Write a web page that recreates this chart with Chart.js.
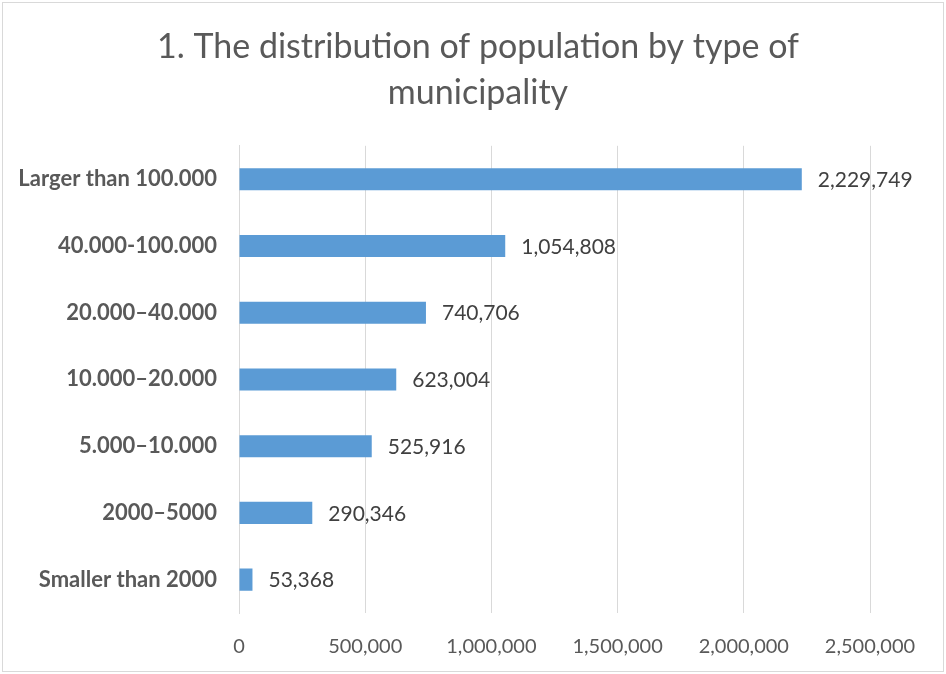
<!DOCTYPE html>
<html>
<head>
<meta charset="utf-8">
<script src="https://cdn.jsdelivr.net/npm/chart.js@4"></script>
<style>
  body { margin: 0; background: #fff; }
  #wrap { width: 946px; height: 674px; }
</style>
</head>
<body>
<div id="wrap"><canvas id="myChart" width="946" height="674"></canvas></div>
<script>
const categories = ['Larger than 100.000', '40.000-100.000', '20.000\u201340.000', '10.000\u201320.000', '5.000\u201310.000', '2000\u20135000', 'Smaller than 2000'];
const population = [2229749, 1054808, 740706, 623004, 525916, 290346, 53368];
const xTicks = [0, 500000, 1000000, 1500000, 2000000, 2500000];

const fmt = (v) => v.toLocaleString('en-US');

// value labels to the right of each bar
const valueLabels = {
    id: 'valueLabels',
    afterDatasetsDraw(chart) {
        const c = chart.ctx;
        const meta = chart.getDatasetMeta(0);
        c.save();
        c.font = '21px Lato';
        c.fillStyle = '#404040';
        c.textBaseline = 'middle';
        c.textAlign = 'left';
        meta.data.forEach((bar, i) => {
            c.fillText(fmt(population[i]), bar.x + 16, bar.y + 1);
        });
        c.restore();
    }
};

// thin frame round the chart
const frame = {
    id: 'frame',
    beforeDraw(chart) {
        const c = chart.ctx;
        c.save();
        c.strokeStyle = '#d9d9d9';
        c.lineWidth = 1;
        c.strokeRect(2.5, 2.5, chart.width - 5, chart.height - 5);
        c.restore();
    }
};

const ctx = document.getElementById('myChart');
new Chart(ctx, {
    type: 'bar',
    data: {
        labels: categories,
        datasets: [{
            data: population,
            backgroundColor: '#5b9bd5',
            categoryPercentage: 1,
            barPercentage: 0.33,
        }]
    },
    options: {
        indexAxis: 'y',
        responsive: false,
        animation: false,
        layout: { padding: { left: 10, right: 0, top: 0, bottom: 0 } },
        scales: {
            x: {
                min: 0,
                max: 2500000,
                afterBuildTicks: (scale) => { scale.ticks = xTicks.map((v) => ({ value: v })); },
                afterFit: (scale) => {
                    scale.height = 61;
                    scale.paddingRight = 76;
                },
                grid: { color: '#d9d9d9', drawTicks: false },
                border: { display: false },
                ticks: {
                    padding: 22,
                    color: '#595959',
                    font: { family: 'Lato', size: 20 },
                    callback: (v) => fmt(v),
                    maxRotation: 0,
                }
            },
            y: {
                afterFit: (scale) => { scale.width = 229; },
                grid: { display: false, drawTicks: false },
                border: { display: true, color: '#d9d9d9' },
                ticks: {
                    padding: 22,
                    color: '#595959',
                    font: { family: 'Lato', size: 22, weight: 'bold' },
                }
            }
        },
        plugins: {
            legend: { display: false },
            tooltip: { enabled: false },
            title: {
                display: true,
                text: ['1. The distribution of population by type of', 'municipality'],
                color: '#595959',
                font: { family: 'Lato', size: 34, weight: 'normal', lineHeight: 1.35 },
                padding: { top: 24, bottom: 30 },
            }
        }
    },
    plugins: [valueLabels, frame]
});
</script>
</body>
</html>
